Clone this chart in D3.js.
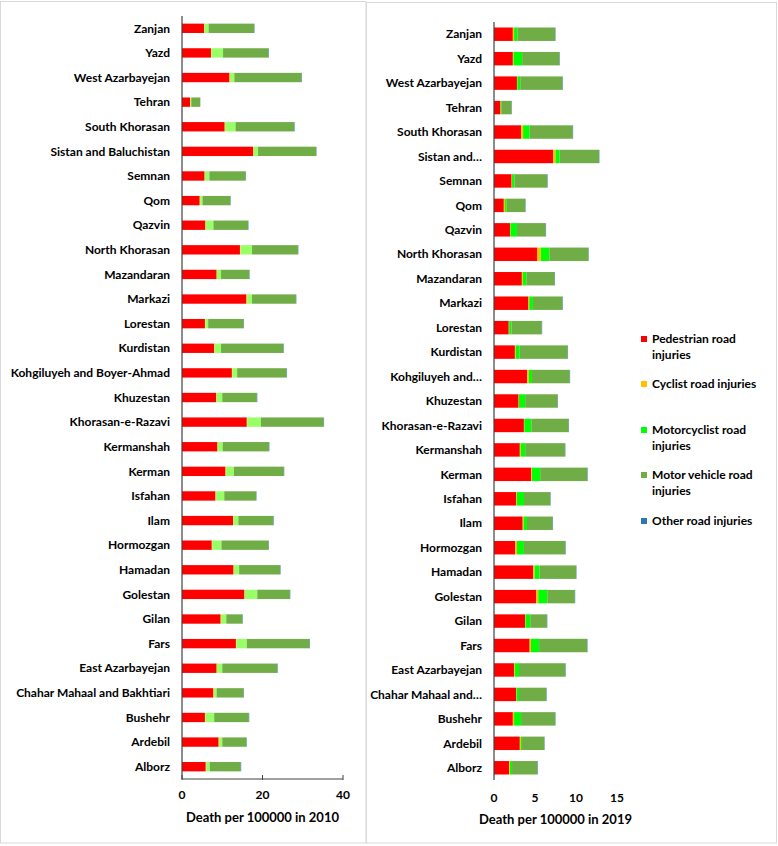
<!DOCTYPE html>
<html><head><meta charset="utf-8">
<script src="https://cdn.jsdelivr.net/npm/d3@7"></script>
<style>body{margin:0;background:#fff}svg{display:block}text{font-family:Lato,"Liberation Sans",sans-serif;font-weight:bold;fill:#000}</style>
</head><body><svg id="c" width="778" height="846"></svg>
<script>
const provinces = ["Zanjan","Yazd","West Azarbayejan","Tehran","South Khorasan","Sistan and Baluchistan","Semnan","Qom","Qazvin","North Khorasan","Mazandaran","Markazi","Lorestan","Kurdistan","Kohgiluyeh and Boyer-Ahmad","Khuzestan","Khorasan-e-Razavi","Kermanshah","Kerman","Isfahan","Ilam","Hormozgan","Hamadan","Golestan","Gilan","Fars","East Azarbayejan","Chahar Mahaal and Bakhtiari","Bushehr","Ardebil","Alborz"];
// 2010
const ped2010 = [5.5,7.2,11.8,2.0,10.6,17.7,5.6,4.4,5.8,14.4,8.6,16.0,5.7,8.0,12.4,8.5,16.1,8.8,10.8,8.3,12.7,7.4,12.8,15.5,9.6,13.4,8.6,7.8,5.7,9.1,5.9];
const cyc2010 = [0.1,0.1,0.1,0.1,0.1,0.1,0.1,0.1,0.1,0.1,0.1,0.2,0.1,0.1,0.1,0.1,0.1,0.1,0.1,0.1,0.1,0.1,0.1,0.1,0.1,0.1,0.1,0.1,0.1,0.1,0.1];
const mc2010  = [1.0,2.9,1.1,0.2,2.6,1.1,1.1,0.6,1.9,2.9,1.0,1.2,0.7,1.6,1.2,1.4,3.4,1.2,2.0,2.1,1.2,2.3,1.3,3.1,1.3,2.6,1.3,0.7,2.2,0.8,0.9];
const mv2010  = [11.3,11.3,16.7,2.2,14.6,14.4,9.0,6.9,8.6,11.4,7.0,10.9,8.8,15.5,12.3,8.6,15.6,11.5,12.4,7.9,8.7,11.7,10.2,8.1,4.0,15.6,13.7,6.7,8.6,6.0,7.7];
const oth2010 = [0.1,0.1,0.1,0.05,0.1,0.1,0.1,0.1,0.1,0.1,0.1,0.1,0.1,0.1,0.1,0.1,0.1,0.1,0.1,0.1,0.1,0.1,0.1,0.1,0.1,0.1,0.1,0.1,0.1,0.1,0.1];
// 2019
const ped2019 = [2.3,2.3,2.8,0.8,3.3,7.2,2.15,1.2,1.95,5.25,3.4,4.2,1.8,2.55,4.05,3.0,3.65,3.15,4.55,2.7,3.5,2.6,4.8,5.15,3.8,4.35,2.45,2.7,2.3,3.15,1.85];
const cyc2019 = [0.15,0.08,0.05,0.05,0.25,0.3,0.05,0.15,0.05,0.45,0.12,0.1,0.05,0.1,0.2,0.05,0.05,0.1,0.08,0.08,0.12,0.2,0.15,0.25,0.05,0.15,0.1,0.05,0.15,0.12,0.1];
const mc2019  = [0.4,1.05,0.35,0.1,0.8,0.5,0.3,0.2,0.8,1.05,0.42,0.45,0.27,0.48,0.38,0.75,0.85,0.55,1.0,0.88,0.4,0.85,0.6,1.1,0.57,1.0,0.5,0.3,0.85,0.15,0.25];
const mv2019  = [4.6,4.55,5.15,1.2,5.25,4.8,4.0,2.25,3.5,4.75,3.45,3.6,3.7,5.85,4.6,3.95,4.55,4.85,5.75,3.2,3.13,5.05,4.45,3.35,2.03,5.85,5.65,3.33,4.15,2.7,3.1];
const oth2019 = [0.05,0.05,0.05,0.03,0.05,0.05,0.05,0.05,0.05,0.05,0.05,0.05,0.05,0.05,0.05,0.05,0.05,0.05,0.05,0.05,0.05,0.05,0.05,0.05,0.05,0.05,0.05,0.05,0.05,0.05,0.05];
const seriesNames = ["Pedestrian road injuries","Cyclist road injuries","Motorcyclist road injuries","Motor vehicle road injuries","Other road injuries"];
const ticks2010 = [0,20,40];
const ticks2019 = [0,5,10,15];

const colors2010 = ["#FF0000","#FFC000","#99FF66","#70AD47","#2E75B6"];
const colors2019 = ["#FF0000","#FFC000","#00FF00","#70AD47","#2E75B6"];

const svg = d3.select("#c");
// panel frames
svg.append("rect").attr("x",0.5).attr("y",1.5).attr("width",365.5).attr("height",841.5).attr("fill","none").attr("stroke","#d9d9d9");
svg.append("rect").attr("x",366.5).attr("y",2.5).attr("width",410).attr("height",840.5).attr("fill","none").attr("stroke","#d9d9d9");

function panel(cfg){
  const data = provinces.map((p,i)=>({p, v: cfg.vals.map(a=>a[i])}));
  const y = d3.scaleBand().domain(provinces).range(cfg.yr).paddingInner(cfg.pad).paddingOuter(cfg.pad/2);
  const x = d3.scaleLinear().domain(cfg.xd).range(cfg.xr);
  const g = svg.append("g");
  data.forEach(d=>{
    let acc = 0;
    d.v.forEach((v,k)=>{
      g.append("rect").attr("x",x(acc)).attr("y",y(d.p)).attr("width",x(acc+v)-x(acc)).attr("height",y.bandwidth()).attr("fill",cfg.colors[k]);
      acc += v;
    });
  });
  // y axis line
  g.append("line").attr("x1",x(0)).attr("x2",x(0)).attr("y1",cfg.yr[0]).attr("y2",cfg.yr[1]).attr("stroke","#404040").attr("stroke-width",1.2);
  // labels
  g.selectAll("text.lab").data(provinces).join("text").attr("class","lab")
    .attr("x",x(0)-12).attr("y",d=>y(d)+y.bandwidth()/2).attr("dy","0.35em").attr("text-anchor","end")
    .attr("font-size",12).text(cfg.labelFn);
  if(cfg.xline){
    g.append("line").attr("x1",x(cfg.xd[0])).attr("x2",x(cfg.xd[1])).attr("y1",cfg.yr[1]).attr("y2",cfg.yr[1]).attr("stroke","#404040").attr("stroke-width",1);
    cfg.ticks.forEach(t=>g.append("line").attr("x1",x(t)).attr("x2",x(t)).attr("y1",cfg.yr[1]-4).attr("y2",cfg.yr[1]+1).attr("stroke","#404040"));
  }
  g.selectAll("text.tk").data(cfg.ticks).join("text").attr("class","tk").attr("x",d=>x(d)).attr("y",cfg.tickY).attr("dy","0.35em")
    .attr("text-anchor","middle").attr("font-size",12).text(d=>d);
  g.append("text").attr("x",(x(cfg.xd[0])+x(cfg.xd[1]))/2).attr("y",cfg.titleY).attr("dy","0.35em").attr("text-anchor","middle").attr("font-size",13).text(cfg.title);
}

panel({vals:[ped2010,cyc2010,mc2010,mv2010,oth2010], colors:colors2010, yr:[16,779], pad:0.62, xd:[0,40], xr:[182,343],
  labelFn:d=>d, xline:true, ticks:ticks2010, tickY:795, titleY:817, title:"Death per 100000 in 2010"});
panel({vals:[ped2019,cyc2019,mc2019,mv2019,oth2019], colors:colors2019, yr:[22,780], pad:0.45, xd:[0,15], xr:[494,617],
  labelFn:d=>{const i=d.indexOf(" and "); return (d.length>17 && i>0)? d.slice(0,i+4)+"…" : d;}, xline:false, ticks:ticks2019, tickY:798, titleY:819, title:"Death per 100000 in 2019"});

// legend
const legY = [339,384,430,475,521];
const legLines = [["Pedestrian road","injuries"],["Cyclist road injuries"],["Motorcyclist road","injuries"],["Motor vehicle road","injuries"],["Other road injuries"]];
seriesNames.forEach((s,i)=>{
  svg.append("rect").attr("x",641).attr("y",legY[i]-3).attr("width",6).attr("height",6).attr("fill",colors2019[i]);
  const t = svg.append("text").attr("x",652).attr("y",legY[i]).attr("dy","0.35em").attr("font-size",12);
  legLines[i].forEach((ln,j)=>t.append("tspan").attr("x",652).attr("dy", j===0?"0.35em":"16").text(ln));
});
</script></body></html>
